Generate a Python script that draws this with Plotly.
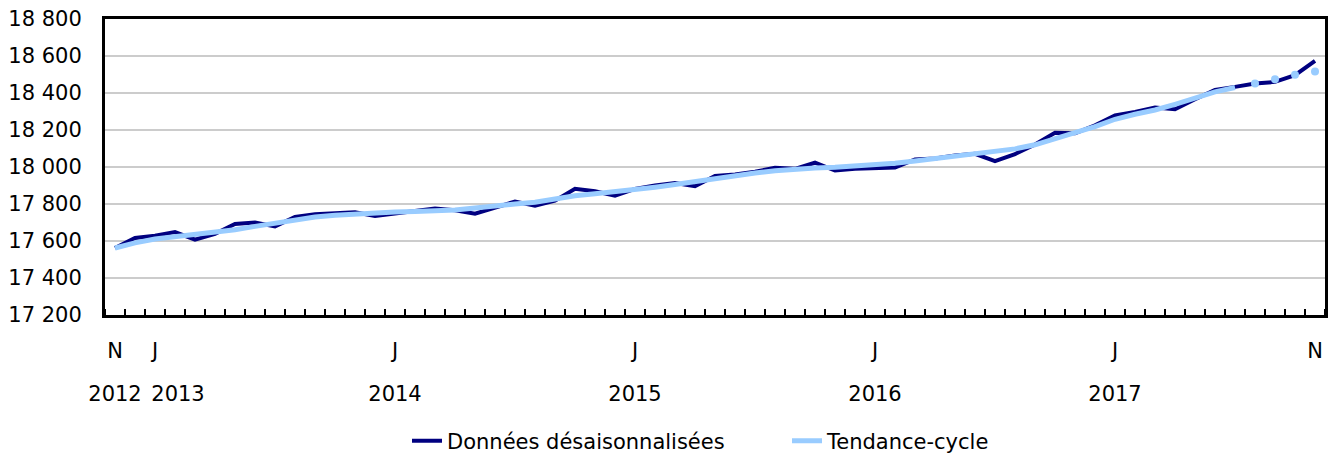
import plotly.graph_objects as go

# Monthly series, November 2012 to November 2017
months = [f"{y}-{m:02d}" for y in range(2012, 2018) for m in range(1, 13)]
months = months[months.index("2012-11"):months.index("2017-11") + 1]

seasonally_adjusted = [
    17562, 17616, 17628, 17648, 17607, 17639, 17692, 17700, 17679, 17730,
    17744, 17751, 17755, 17735, 17746, 17762, 17775, 17766, 17748, 17779,
    17813, 17791, 17818, 17882, 17869, 17845, 17882, 17900, 17914, 17896,
    17952, 17959, 17974, 17996, 17990, 18023, 17981, 17990, 17994, 17997,
    18041, 18046, 18062, 18071, 18032, 18070, 18122, 18185, 18182, 18225,
    18279, 18297, 18321, 18312, 18366, 18417, 18433, 18451, 18460, 18496,
    18574,
]

trend_cycle = [
    17562, 17590, 17611, 17623, 17634, 17648, 17661, 17679, 17697, 17714,
    17730, 17739, 17746, 17752, 17757, 17760, 17763, 17768, 17778, 17791,
    17800, 17809, 17827, 17845, 17855, 17865, 17878, 17891, 17905, 17922,
    17938, 17954, 17968, 17980, 17990, 17995, 17999, 18004, 18010, 18020,
    18032, 18045, 18059, 18070, 18082, 18098, 18120, 18150, 18186, 18218,
    18258, 18285, 18308, 18339, 18375, 18406, 18430,
]
trend_cycle_provisional = [18451, 18475, 18498, 18516]

month_tick_labels = {"2012-11": "N", "2013-01": "J", "2014-01": "J", "2015-01": "J",
                     "2016-01": "J", "2017-01": "J", "2017-11": "N"}
year_labels = ["2012", "2013", "2014", "2015", "2016", "2017"]
year_label_months = ["2012-11", "2013-01", "2014-01", "2015-01", "2016-01", "2017-01"]

x = list(range(len(months)))
n_final = len(trend_cycle)

month_tickvals = [months.index(m) for m in month_tick_labels]
year_tickvals = [months.index(m) for m in year_label_months]
year_tickvals[1] += 1.15  # avoid overlap with 2012 label, as in source
boundaries = [i - 0.5 for i in range(len(months) + 1)]

FONT = "DejaVu Sans"
fig = go.Figure()
fig.add_trace(go.Scatter(
    x=x, y=seasonally_adjusted, mode="lines", name="Données désaisonnalisées",
    line=dict(color="#000080", width=4),
))
fig.add_trace(go.Scatter(
    x=x[:n_final], y=trend_cycle, mode="lines", name="Tendance-cycle",
    line=dict(color="#99CCFF", width=5),
))
fig.add_trace(go.Scatter(
    x=x[n_final:], y=trend_cycle_provisional, mode="markers", showlegend=False,
    marker=dict(color="#99CCFF", size=8), xaxis="x2",
))

PAPER_H = 457 - 19 - 82
fig.update_layout(
    width=1331, height=457, autosize=False,
    margin=dict(l=105, r=6, t=19, b=82, autoexpand=False),
    paper_bgcolor="white", plot_bgcolor="white",
    separators=", ",
    font=dict(family=FONT, size=21, color="black"),
    showlegend=True,
    legend=dict(orientation="h", x=(407 - 105) / 1220, xanchor="left",
                y=-(441 - 375) / PAPER_H, yanchor="middle",
                entrywidth=335, entrywidthmode="pixels",
                font=dict(size=21), bgcolor="rgba(0,0,0,0)"),
    yaxis=dict(
        domain=[(375 - 315) / PAPER_H, 1], range=[17200, 18800], dtick=200, tickformat=",d",
        showgrid=True, gridcolor="#cccccc", gridwidth=2,
        showline=True, linecolor="black", linewidth=3, mirror=True,
        ticks="", zeroline=False, ticklabelstandoff=16,
        tickfont=dict(size=21),
    ),
    xaxis=dict(
        range=[-0.5, len(months) - 0.5], tickmode="array",
        tickvals=month_tickvals, ticktext=list(month_tick_labels.values()),
        showgrid=False, zeroline=False, showline=True, linecolor="black",
        linewidth=3, mirror=True, ticks="", ticklabelstandoff=15,
        minor=dict(tickmode="array", tickvals=boundaries, ticks="inside",
                   ticklen=6, tickwidth=2, tickcolor="black"),
        tickfont=dict(size=21),
    ),
    xaxis2=dict(
        overlaying="x", anchor="free", position=0, side="bottom",
        range=[-0.5, len(months) - 0.5], tickmode="array",
        tickvals=year_tickvals, ticktext=year_labels,
        showgrid=False, zeroline=False, showline=False, ticks="",
        ticklabelstandoff=4, tickfont=dict(size=21),
    ),
)

fig.write_html("out.html", config={"displayModeBar": False},
               post_script="document.body.style.margin='0';")
